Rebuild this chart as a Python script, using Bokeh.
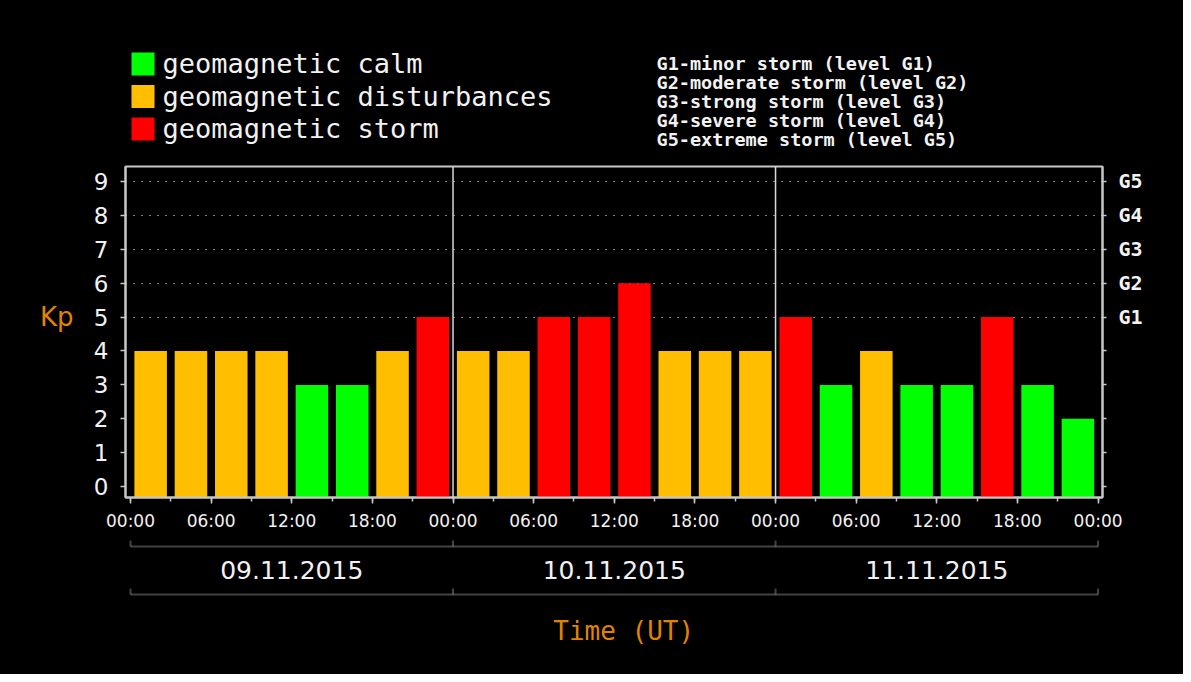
from bokeh.plotting import figure
from bokeh.layouts import column
from bokeh.models import (ColumnDataSource, FixedTicker, LinearAxis, Range1d,
                          Span, Label, BoxAnnotation)
from bokeh.embed import file_html
from bokeh.resources import INLINE

# ---------------- data ----------------
dates = ["09.11.2015", "10.11.2015", "11.11.2015"]
kp_day1 = [4, 4, 4, 4, 3, 3, 4, 5]
kp_day2 = [4, 4, 5, 5, 6, 4, 4, 4]
kp_day3 = [5, 3, 4, 3, 3, 5, 3, 2]
hour_labels = ["00:00", "06:00", "12:00", "18:00"]
storm_levels = ["G1", "G2", "G3", "G4", "G5"]
storm_names = ["minor", "moderate", "strong", "severe", "extreme"]
legend_labels = ["geomagnetic calm", "geomagnetic disturbances", "geomagnetic storm"]
legend_colors = ["#00ff00", "#ffbf00", "#ff0000"]

# ---------------- style / layout ----------------
AX = "#c8c8c8"
BR = "#dcdcdc"
TXT = "#f2f2f2"
ORANGE = "#e08400"
W = 1183
H_TOP, H_MAIN, H_BOT = 160, 373, 141
F_LEFT, F_RIGHT = 125, 1102
X0, X1 = -0.372, 72.33
Y0, Y1 = -0.32, 9.44


def blank(height, x_range, y_range):
    f = figure(width=W, height=height, output_backend="svg", toolbar_location=None,
               x_range=x_range, y_range=y_range, x_axis_type=None, y_axis_type=None,
               min_border_left=F_LEFT, min_border_right=W - F_RIGHT, min_border_top=0,
               min_border_bottom=0, background_fill_color="black",
               border_fill_color="black", outline_line_color=None)
    f.grid.visible = False
    return f


kp = kp_day1 + kp_day2 + kp_day3
x_mid = [3 * i + 1.5 for i in range(len(kp))]
bar_colors = [legend_colors[0] if v < 4 else (legend_colors[1] if v == 4 else legend_colors[2]) for v in kp]
src = ColumnDataSource(dict(x=x_mid, kp=kp, color=bar_colors))

xr = Range1d(X0, X1)

# ---------------- top: legend + storm level list ----------------
top = blank(H_TOP, Range1d(F_LEFT, F_RIGHT), Range1d(H_TOP, 0))
for i, (lab, col) in enumerate(zip(legend_labels, legend_colors)):
    y_top = 52 + 32.5 * i
    top.add_layout(BoxAnnotation(left=131, right=154, top=y_top, bottom=y_top + 23,
                                 fill_color=col, fill_alpha=1, line_color=None))
    top.add_layout(Label(x=162, y=y_top + 11, text=lab, text_font="DejaVu Sans Mono",
                         text_font_size="27px", text_color=TXT, text_align="left",
                         text_baseline="middle"))
for i, (g, n) in enumerate(zip(storm_levels, storm_names)):
    top.add_layout(Label(x=656, y=62.7 + 19.15 * i, text=f"{g}-{n} storm (level {g})",
                         text_font="DejaVu Sans Mono", text_font_size="18.5px",
                         text_font_style="bold", text_color=TXT, text_align="left",
                         text_baseline="middle"))

# ---------------- main chart ----------------
p = figure(width=W, height=H_MAIN, output_backend="svg", toolbar_location=None,
           x_range=xr, y_range=Range1d(Y0, Y1),
           min_border_left=F_LEFT, min_border_right=W - F_RIGHT, min_border_top=6,
           min_border_bottom=36,
           background_fill_color="black", border_fill_color="black",
           outline_line_color=AX, outline_line_width=2)

p.xgrid.visible = False
p.ygrid.ticker = FixedTicker(ticks=[5, 6, 7, 8, 9])
p.ygrid.grid_line_color = "white"
p.ygrid.grid_line_dash = "1 7"
p.ygrid.grid_line_width = 1

p.vbar(x="x", width=2.42, top="kp", bottom=Y0, fill_color="color",
       line_color=None, source=src)

for d in (24, 48):
    p.add_layout(Span(location=d, dimension="height", line_color="#d8d8d8", line_width=1.5))

yax = p.yaxis[0]
yax.ticker = FixedTicker(ticks=list(range(10)))
yax.major_label_text_font = "DejaVu Sans"
yax.major_label_text_font_size = "23px"
yax.major_label_text_color = TXT
yax.axis_line_color = AX
yax.axis_line_width = 2
yax.major_tick_line_color = AX
yax.major_tick_line_width = 1.5
yax.major_tick_out = 5
yax.major_tick_in = 0
yax.minor_tick_line_color = None
yax.major_label_standoff = 12

# "Kp" title, placed at level 5 as in the original
kp_axis = LinearAxis(ticker=FixedTicker(ticks=[5]), major_label_overrides={5: "Kp"})
kp_axis.axis_line_color = None
kp_axis.major_tick_line_color = None
kp_axis.minor_tick_line_color = None
kp_axis.major_tick_out = 0
kp_axis.major_tick_in = 0
kp_axis.major_label_text_font = "DejaVu Sans"
kp_axis.major_label_text_font_size = "26px"
kp_axis.major_label_text_color = ORANGE
kp_axis.major_label_standoff = 17
p.add_layout(kp_axis, "left")

xax = p.xaxis[0]
major = list(range(0, 73, 6))
xax.ticker = FixedTicker(ticks=major, minor_ticks=list(range(0, 73, 3)))
xax.major_label_overrides = {h: hour_labels[(h // 6) % 4] for h in major}
xax.major_label_text_font = "DejaVu Sans"
xax.major_label_text_font_size = "17px"
xax.major_label_text_color = TXT
xax.axis_line_color = AX
xax.axis_line_width = 2
xax.major_tick_line_color = AX
xax.major_tick_line_width = 1.5
xax.major_tick_out = 6
xax.major_tick_in = 0
xax.minor_tick_line_color = AX
xax.minor_tick_line_width = 1.5
xax.minor_tick_out = 4
xax.minor_tick_in = 0
xax.major_label_standoff = 7

rax = LinearAxis(ticker=FixedTicker(ticks=list(range(10))),
                 major_label_overrides={k: (storm_levels[k - 5] if k >= 5 else "") for k in range(10)})
rax.major_label_text_font = "DejaVu Sans Mono"
rax.major_label_text_font_size = "20px"
rax.major_label_text_font_style = "bold"
rax.major_label_text_color = TXT
rax.axis_line_color = AX
rax.axis_line_width = 2
rax.major_tick_line_color = AX
rax.major_tick_line_width = 1.5
rax.major_tick_out = 4
rax.major_tick_in = 0
rax.minor_tick_line_color = None
rax.major_label_standoff = 12
p.add_layout(rax, "right")

# ---------------- bottom: date brackets + axis title ----------------
y_off = H_TOP + H_MAIN
bot = blank(H_BOT, xr, Range1d(y_off + H_BOT, y_off))
for ly, tick_top in ((546, 540), (594, 588)):
    bot.add_layout(BoxAnnotation(left=0, right=72, top=ly, bottom=ly,
                                 fill_alpha=0, line_color=BR, line_width=2))
    for d in (0, 24, 48, 72):
        bot.add_layout(BoxAnnotation(left=d, right=d, top=tick_top, bottom=ly,
                                     fill_alpha=0, line_color=BR, line_width=2))
for i, d in enumerate(dates):
    bot.add_layout(Label(x=24 * i + 12, y=569, text=d, text_font="DejaVu Sans",
                         text_font_size="25px", text_color=TXT, text_align="center",
                         text_baseline="middle"))
bot.add_layout(Label(x=36.7, y=630, text="Time (UT)", text_font="DejaVu Sans Mono",
                     text_font_size="26px", text_color=ORANGE, text_align="center",
                     text_baseline="middle"))

layout = column(top, p, bot, spacing=0, styles={"background-color": "black"})
open("out.html", "w").write(file_html(layout, INLINE))
